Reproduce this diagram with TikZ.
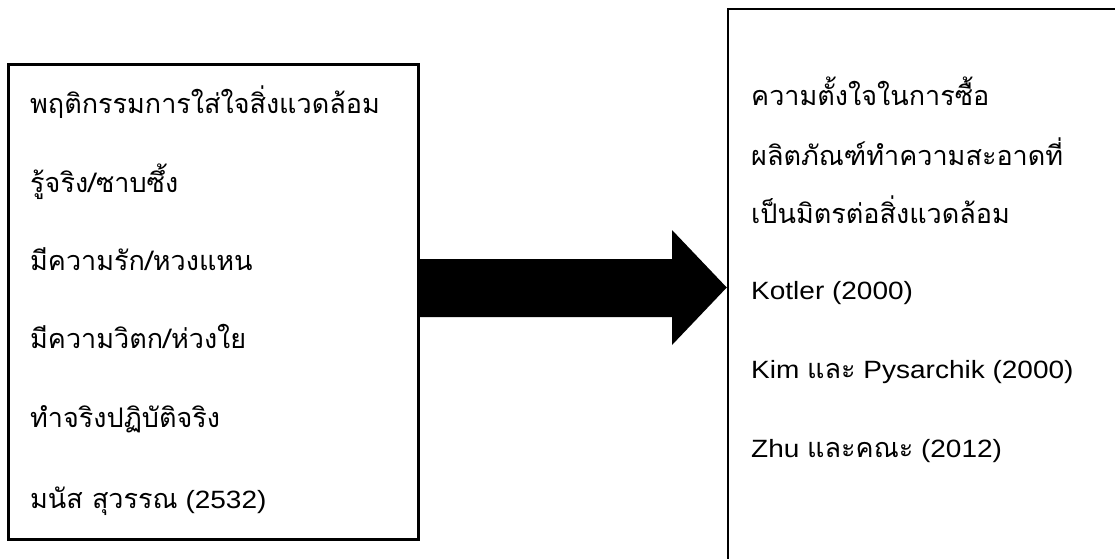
\documentclass[tikz,border=0pt]{standalone}
\usepackage{fontspec}
\setmainfont[FakeStretch=1.12]{Liberation Sans}
\newfontfamily\thaifont[Script=Thai]{Loma}
\newcommand{\thx}[1]{{\fontsize{27}{32}\thaifont #1}}
\begin{document}
\begin{tikzpicture}[x=1pt,y=-1pt,
  txt/.style={anchor=base west, inner sep=0pt, font=\fontsize{25}{30}\selectfont},
  boxL/.style={draw=black, line width=3pt, inner sep=0pt},
  boxR/.style={draw=black, line width=2.5pt, inner sep=0pt}]
\useasboundingbox (0,0) rectangle (1115,558);
% boxes
\node[boxL, minimum width=410pt, minimum height=475pt] (L) at (213,301.5) {};
\node[boxR, minimum width=420pt, minimum height=580pt] (R) at (938,299) {};
% arrow
\fill[black] (L.east |- 0,259) -- (672,259) -- (672,230) -- (R.west |- 0,287.5)
  -- (672,345) -- (672,317) -- (L.east |- 0,317) -- cycle;
% left texts
\node[txt] (l1) at (30,113) {\thx{พฤติกรรมการใส่ใจสิ่งแวดล้อม}};
\node[txt] (l2) at (30,192) {\thx{รู้จริง/ซาบซึ้ง}};
\node[txt] (l3) at (30,270) {\thx{มีความรัก/หวงแหน}};
\node[txt] (l4) at (30,348) {\thx{มีความวิตก/ห่วงใย}};
\node[txt] (l5) at (30,427) {\thx{ทำจริงปฏิบัติจริง}};
\node[txt] (l6) at (30,508) {\thx{มนัส สุวรรณ} (2532)};
% right texts
\node[txt] (r1) at (751,105) {\thx{ความตั้งใจในการซื้อ}};
\node[txt] (r2) at (751,165) {\thx{ผลิตภัณฑ์ทำความสะอาดที่}};
\node[txt] (r3) at (751,223) {\thx{เป็นมิตรต่อสิ่งแวดล้อม}};
\node[txt] (r4) at (751,299) {Kotler (2000)};
\node[txt] (r5) at (751,378) {Kim \thx{และ} Pysarchik (2000)};
\node[txt] (r6) at (751,457) {Zhu \thx{และคณะ} (2012)};
\end{tikzpicture}
\end{document}
